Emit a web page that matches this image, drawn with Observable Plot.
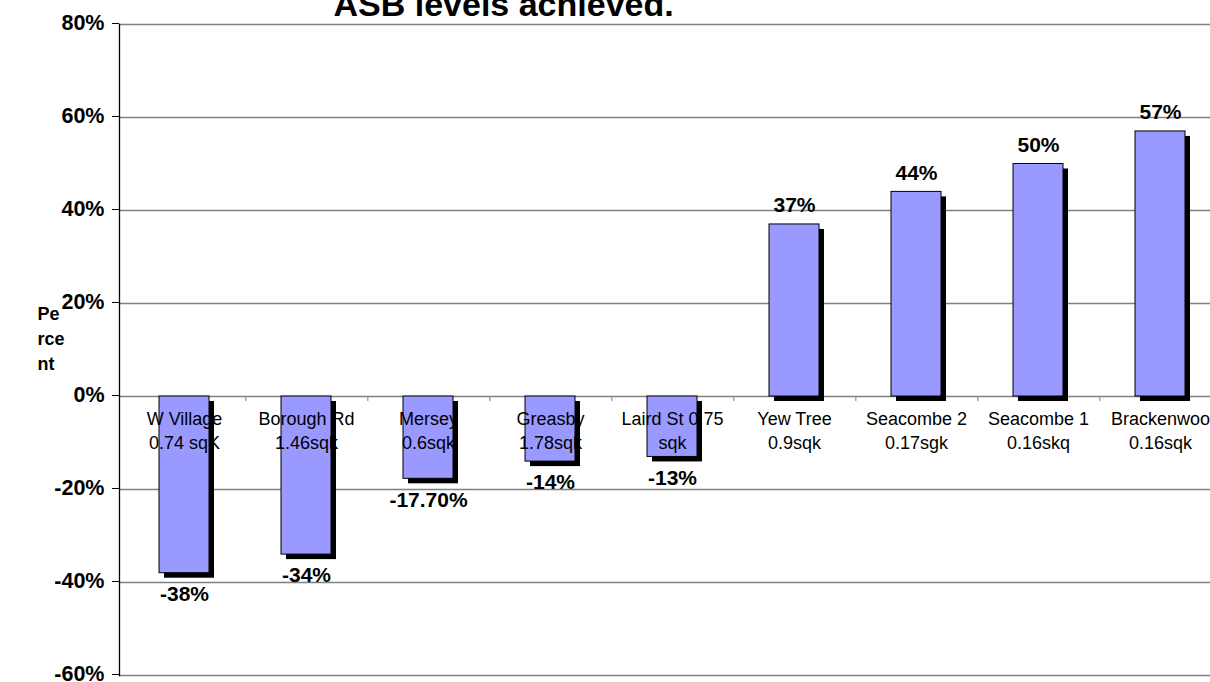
<!DOCTYPE html>
<html>
<head>
<meta charset="utf-8">
<script src="https://cdn.jsdelivr.net/npm/d3@7"></script>
<script src="https://cdn.jsdelivr.net/npm/@observablehq/plot@0.6"></script>
<style>
  html, body { margin: 0; padding: 0; background: #fff; overflow: hidden; }
  #chart { position: relative; width: 1210px; height: 682px; }
</style>
</head>
<body>
<div id="chart"></div>
<script>
const title = "ASB levels achieved.";
const yLabel = "Pe\nrce\nnt";
const names = ["W Village", "Borough Rd", "Mersey", "Greasby", "Laird St 0.75", "Yew Tree", "Seacombe 2", "Seacombe 1", "Brackenwoo"];
const areas = ["0.74 sqK", "1.46sqk", "0.6sqk", "1.78sqk", "sqk", "0.9sqk", "0.17sgk", "0.16skq", "0.16sqk"];
const values = [-38, -34, -17.7, -14, -13, 37, 44, 50, 57];
const valueLabels = ["-38%", "-34%", "-17.70%", "-14%", "-13%", "37%", "44%", "50%", "57%"];
const yTicks = [-60, -40, -20, 0, 20, 40, 60, 80];

const data = names.map((n, i) => ({
  key: i,
  label: n + "\n" + areas[i],
  value: values[i],
  vlabel: valueLabels[i]
}));
const keys = data.map(d => d.key);

const xRange = [120, 1224];
const step = (xRange[1] - xRange[0]) / keys.length;
const font = "Liberation Sans, Arial, sans-serif";

const chart = Plot.plot({
  width: 1210,
  height: 682,
  marginTop: 24,
  marginBottom: 7,
  marginLeft: 119,
  marginRight: 0,
  style: { fontFamily: font, background: "#fff", overflow: "hidden" },
  x: { domain: keys, range: xRange, paddingInner: 0.59, paddingOuter: 0.295, axis: null },
  y: { domain: [-60, 80], axis: null },
  marks: [
    Plot.ruleY(yTicks, { stroke: "#808080", strokeWidth: 1.3 }),
    Plot.ruleX(keys, { x: d => d, y1: 0, y2: -1.1, dx: step / 2, stroke: "#808080" }),
    Plot.frame({ anchor: "left", stroke: "#000", strokeWidth: 1.3 }),
    Plot.axisY(yTicks, {
      label: null,
      tickFormat: d => d + "%",
      tickSize: 7,
      tickPadding: 8,
      fontSize: 21.5,
      fontWeight: "bold",
      fill: "#000",
      stroke: "#000",
      dy: -1
    }),
    Plot.barY(data, { x: "key", y: "value", fill: "#000", dx: 5, dy: 5 }),
    Plot.barY(data, { x: "key", y: "value", fill: "#9999FF", stroke: "#000", strokeWidth: 1 }),
    Plot.text(data, {
      x: "key", y: () => 0, text: "label",
      lineAnchor: "top", dy: 12, fontSize: 18, lineHeight: 1.32, fill: "#000"
    }),
    Plot.text(data.filter(d => d.value < 0), {
      x: "key", y: "value", text: "vlabel",
      dy: 21, fontSize: 21, fontWeight: "bold", fill: "#000"
    }),
    Plot.text(data.filter(d => d.value >= 0), {
      x: "key", y: "value", text: "vlabel",
      dy: -19, fontSize: 21, fontWeight: "bold", fill: "#000"
    }),
    Plot.text([yLabel], {
      frameAnchor: "left", text: d => d, textAnchor: "start",
      dx: -82, dy: -13, fontSize: 18, fontWeight: "bold", lineHeight: 1.38, fill: "#000"
    }),
    Plot.text([title], {
      frameAnchor: "top-left", text: d => d, textAnchor: "start",
      dx: 214, dy: -33, fontSize: 34, fontWeight: "bold", fill: "#000"
    })
  ]
});
document.getElementById("chart").appendChild(chart);
</script>
</body>
</html>
